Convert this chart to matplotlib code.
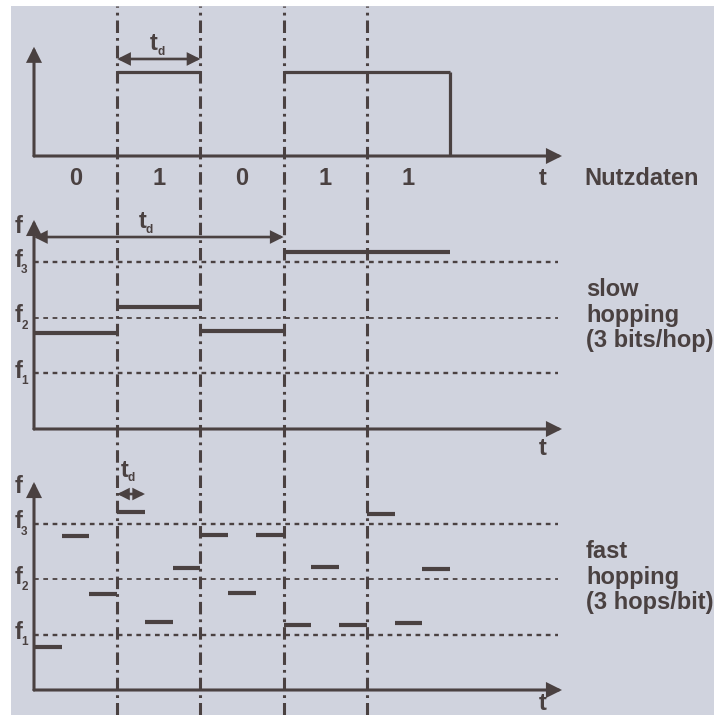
import matplotlib
matplotlib.use("Agg")
import matplotlib.pyplot as plt
from matplotlib.patches import Rectangle, FancyArrowPatch

plt.rcParams['font.family'] = ['Liberation Sans', 'DejaVu Sans']
plt.rcParams['lines.scale_dashes'] = False

# ---------------- data ----------------
bits = [0, 1, 0, 1, 1]
bit_labels = ["0", "1", "0", "1", "1"]
freq_levels = [1, 2, 3]
freq_labels = ["1", "2", "3"]

slow_start = [0, 1, 2, 3]
slow_end = [1, 2, 3, 5]
slow_freq = [1.73, 2.20, 1.77, 3.19]

hops_per_bit = 3
fast_freq = [0.78, 2.78, 1.73,
             3.21, 1.23, 2.20,
             2.80, 1.75, 2.80,
             1.17, 2.22, 1.17,
             3.19, 1.21, 2.18]

BG = '#D0D3DE'
C = '#4A4141'
W, H = 714, 715
X0, XU = 34, 83.2          # pixel of t=0, pixels per bit
XL = (-X0 / XU, (W - X0) / XU)
FS = 17
DASHDOT = (0, (9.0, 3.6, 2.0, 3.6))
DOTTED = (0, (3.4, 3.3))

fig = plt.figure(figsize=(W / 100, H / 100), dpi=100)
fig.patch.set_facecolor('white')

# background axes for the panel colour and the vertical bit boundaries
axb = fig.add_axes([0, 0, 1, 1])
axb.set_xlim(*XL)
axb.set_ylim(0, 1)
axb.axis('off')
axb.add_patch(Rectangle((11 / W, 0), 1 - 11 / W, 1 - 6 / H,
                        transform=fig.transFigure, facecolor=BG,
                        edgecolor='none', zorder=0))
for b in range(1, len(bits)):
    axb.axvline(b, ymin=0, ymax=1 - 6 / H, color=C, lw=2.2,
                linestyle=DASHDOT, zorder=2)


def panel(top, bottom, y0, unit):
    ax = fig.add_axes([0, 1 - bottom / H, 1, (bottom - top) / H])
    ax.set_xlim(*XL)
    ax.set_ylim((y0 - bottom) / unit, (y0 - top) / unit)
    ax.axis('off')
    ax.patch.set_alpha(0)
    return ax


def arrow(ax, p0, p1, style='-|>', ms=20, lw=2.2):
    a = FancyArrowPatch(p0, p1, arrowstyle=style, mutation_scale=ms,
                        lw=lw, color=C, shrinkA=0, shrinkB=0,
                        clip_on=False, joinstyle='miter')
    ax.add_patch(a)


def axes_arrows(ax, ytop, xend=6.346):
    arrow(ax, (0, 0), (0, ytop))
    arrow(ax, (0, 0), (xend, 0))


def td(ax, tx, ty, dx, dy):
    ax.text(tx, ty, 't', fontsize=FS, fontweight='bold', color=C,
            ha='center', va='center')
    ax.text(dx, dy, 'd', fontsize=8.5, fontweight='bold', color=C,
            ha='center', va='center')


n = len(bits)

# ---------------- top panel: Nutzdaten ----------------
ax1 = panel(6, 195, 156, 84)
axes_arrows(ax1, 1.30)
for i, b in enumerate(bits):
    if b:
        ax1.plot([i, i + 1], [1, 1], color=C, lw=2.3, solid_capstyle='butt')
    ax1.text(i + 0.5, -0.345, bit_labels[i], fontsize=FS, fontweight='bold',
             color=C, ha='center', va='baseline')
ax1.plot([n, n], [bits[-1], 0], color=C, lw=2.3, solid_capstyle='butt')
ax1.text(6.12, -0.345, 't', fontsize=FS, fontweight='bold', color=C,
         ha='center', va='baseline')
ax1.text(6.61, -0.345, 'Nutzdaten', fontsize=FS, fontweight='bold', color=C,
         ha='left', va='baseline')
arrow(ax1, (1, 1.155), (2, 1.155), style='<|-|>', ms=17, lw=1.9)
td(ax1, 1.442, 1.345, 1.532, 1.244)


def freq_panel(ax, yfl, ftop, ty):
    for lv, lab in zip(freq_levels, freq_labels):
        lw = 1.3 if lv == 2 else 1.7
        ax.plot([0, 6.3], [lv, lv], color=C, lw=lw, linestyle=DOTTED)
        ax.text(-0.19, lv + 0.04, 'f', fontsize=FS, fontweight='bold',
                color=C, ha='center', va='center')
        ax.text(-0.114, lv - 0.14, lab, fontsize=8.5, fontweight='bold',
                color=C, ha='center', va='center')
    ax.text(-0.19, yfl, 'f', fontsize=FS, fontweight='bold', color=C,
            ha='center', va='center')
    ax.text(6.12, ty, 't', fontsize=FS, fontweight='bold', color=C,
            ha='center', va='center')
    axes_arrows(ax, ftop)


# ---------------- middle panel: slow hopping ----------------
ax2 = panel(195, 460, 429, 55.5)
freq_panel(ax2, 3.649, 3.766, -0.351)
for s, e, f in zip(slow_start, slow_end, slow_freq):
    ax2.plot([s, e], [f, f], color=C, lw=3.0, solid_capstyle='butt')
arrow(ax2, (0, 3.459), (3, 3.459), style='<|-|>', ms=17, lw=1.9)
td(ax2, 1.304, 3.739, 1.388, 3.577)
ax2.text(6.635, 2.054, 'slow\nhopping\n(3 bits/hop)', fontsize=FS,
         fontweight='bold', color=C, ha='left', va='center',
         linespacing=1.15)

# ---------------- bottom panel: fast hopping ----------------
ax3 = panel(460, 715, 690, 55.3)
freq_panel(ax3, 3.68, 3.761, -0.24)
for k, f in enumerate(fast_freq):
    s = k / hops_per_bit
    ax3.plot([s, s + 1 / hops_per_bit], [f, f], color=C, lw=3.0,
             solid_capstyle='butt')
arrow(ax3, (1, 3.544), (1 + 1 / hops_per_bit, 3.544), style='<|-|>',
      ms=15, lw=1.9)
td(ax3, 1.094, 3.969, 1.172, 3.834)
ax3.text(6.635, 2.043, 'fast\nhopping\n(3 hops/bit)', fontsize=FS,
         fontweight='bold', color=C, ha='left', va='center',
         linespacing=1.15)

fig.savefig('out.png', dpi=100, facecolor='white')
